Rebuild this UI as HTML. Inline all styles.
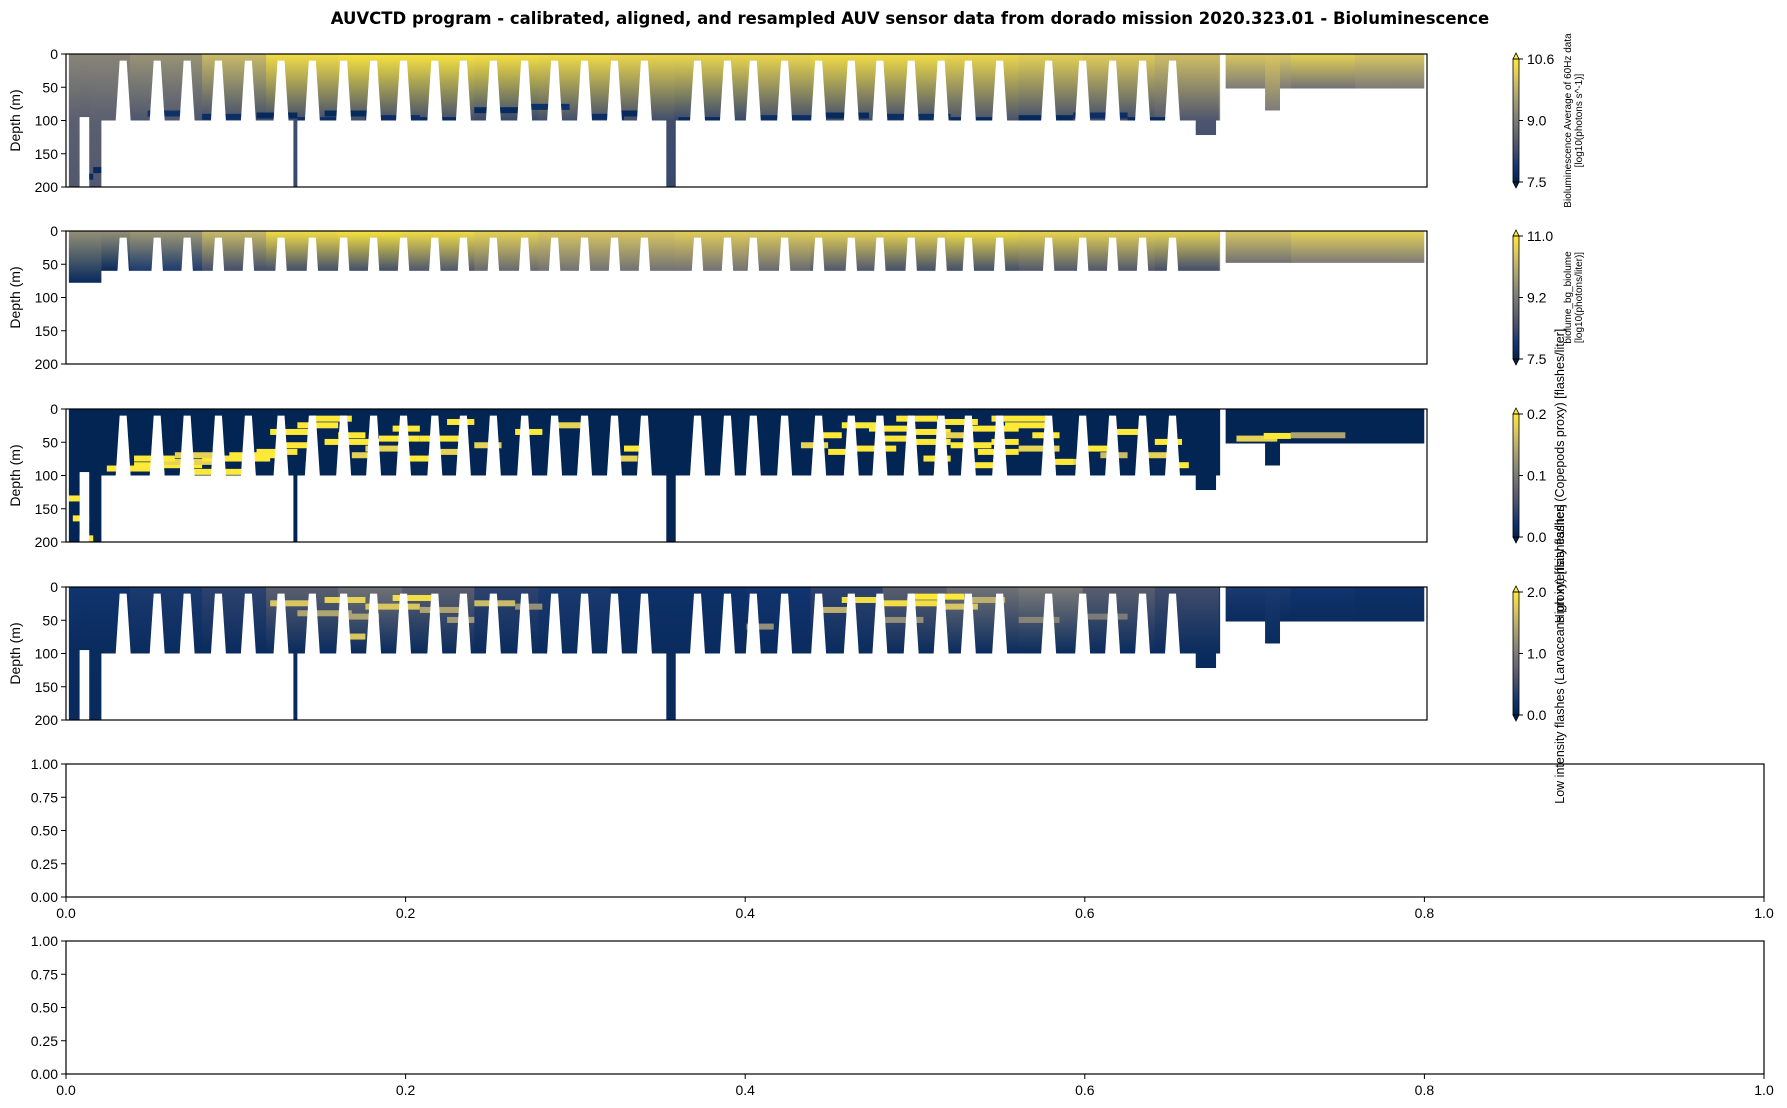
<!DOCTYPE html>
<html><head><meta charset="utf-8">
<style>
html,body{margin:0;padding:0;background:#fff;}
svg{display:block;font-family:"Liberation Sans","DejaVu Sans",sans-serif;}
</style></head>
<body>
<svg id="fig" width="1787" height="1108" viewBox="0 0 1787 1108" xmlns="http://www.w3.org/2000/svg">
<rect width="1787" height="1108" fill="#fff"/>
<text x="910" y="24" text-anchor="middle" font-size="16.5" font-weight="bold" font-family="DejaVu Sans, Liberation Sans, sans-serif">AUVCTD program - calibrated, aligned, and resampled AUV sensor data from dorado mission 2020.323.01 - Bioluminescence</text>
<defs id="defs"></defs>
<g id="root"></g>
</svg>
<script>
// ---- data ----
const depthTicks = [0, 50, 100, 150, 200];
const gapCenters = [0.042,0.067,0.089,0.112,0.134,0.158,0.181,0.204,0.226,0.248,0.271,0.292,0.314,0.337,0.359,0.381,0.403,0.425,0.464,0.486,0.505,0.528,0.553,0.577,0.598,0.621,0.643,0.663,0.686,0.722,0.747,0.769,0.791,0.813];
const segStart1 = [0.002,0.010,0.017,0.026,0.167,0.170,0.441,0.448,0.830,0.845,0.852,0.881,0.892];
const segEnd1   = [0.010,0.017,0.026,0.167,0.170,0.441,0.448,0.830,0.845,0.848,0.881,0.892,0.998];
const segBottom1= [200,95,200,100,200,100,200,100,122,100,52,85,52];
const segStart2 = [0.002,0.026,0.852];
const segEnd2   = [0.026,0.848,0.998];
const segBottom2= [78,60,48];
const p1Top = [0.55,0.62,0.8,0.95,0.98,0.98,0.97,0.95,0.93,0.93,0.93,0.95,0.95,0.93,0.9,0.88,0.82,0.85,0.9,0.85];
const p1Bot = [0.35,0.3,0.25,0.25,0.25,0.25,0.22,0.25,0.25,0.22,0.25,0.25,0.25,0.28,0.25,0.25,0.3,0.5,0.45,0.5];
const p2Top = [0.6,0.65,0.8,0.95,0.98,0.95,0.9,0.85,0.85,0.88,0.88,0.9,0.92,0.95,0.92,0.9,0.9,0.85,0.9,0.9];
const p2Bot = [0.05,0.15,0.25,0.25,0.25,0.3,0.4,0.45,0.45,0.45,0.4,0.3,0.25,0.25,0.3,0.3,0.25,0.45,0.5,0.5];
const p3Top = [0.02,0.02,0.02,0.02,0.02,0.02,0.02,0.02,0.02,0.02,0.02,0.02,0.02,0.02,0.02,0.02,0.02,0.02,0.02,0.02];
const p3Bot = [0.02,0.02,0.02,0.02,0.02,0.02,0.02,0.02,0.02,0.02,0.02,0.02,0.02,0.02,0.02,0.02,0.02,0.02,0.02,0.02];
const p4Top = [0.12,0.15,0.2,0.35,0.45,0.35,0.2,0.15,0.1,0.1,0.12,0.2,0.35,0.45,0.5,0.35,0.25,0.15,0.12,0.1];
const p4Bot = [0.06,0.06,0.06,0.06,0.06,0.06,0.06,0.06,0.06,0.06,0.06,0.06,0.06,0.06,0.06,0.06,0.06,0.06,0.06,0.06];
// panel 1 dark streaks near bottom
const s1X = [0.01,0.02,0.06,0.1,0.14,0.17,0.19,0.22,0.26,0.3,0.34,0.38,0.4,0.45,0.5,0.55,0.6,0.65,0.7,0.74,0.78,0.82];
const s1D = [180,170,85,90,88,95,85,92,95,80,75,90,85,95,92,88,90,95,92,88,95,105];
const s1L = [0.01,0.008,0.03,0.03,0.03,0.03,0.04,0.04,0.03,0.04,0.03,0.03,0.03,0.04,0.05,0.04,0.05,0.04,0.04,0.04,0.03,0.01];
const s1V = [0.05,0.05,0.1,0.08,0.05,0.08,0.05,0.08,0.05,0.05,0.1,0.08,0.05,0.05,0.08,0.05,0.08,0.05,0.05,0.08,0.05,0.1];
// streaks: x (fraction), depth (m), length (fraction), value (0-1)
const s3X = [0.0,0.005,0.01,0.03,0.05,0.07,0.09,0.1,0.12,0.14,0.15,0.17,0.19,0.2,0.22,0.24,0.26,0.28,0.3,0.33,0.36,0.4,0.41,0.55,0.57,0.58,0.6,0.61,0.62,0.63,0.64,0.65,0.66,0.67,0.68,0.69,0.71,0.73,0.75,0.77,0.79,0.8,0.81,0.86,0.88,0.9,0.05,0.08,0.16,0.18,0.21,0.23,0.25,0.27,0.54,0.56,0.59,0.62,0.64,0.66,0.68,0.7,0.72,0.76];
const s3D = [130,160,190,85,80,75,90,70,65,60,30,20,45,35,55,25,40,15,50,30,20,70,55,35,20,55,40,10,30,70,15,50,25,60,45,20,35,75,55,30,65,45,80,40,36,35,70,65,50,10,65,40,70,60,50,60,25,45,35,80,10,55,75,65];
const s3L = [0.01,0.012,0.01,0.04,0.05,0.04,0.04,0.05,0.04,0.03,0.03,0.03,0.04,0.02,0.03,0.02,0.03,0.02,0.02,0.02,0.02,0.02,0.015,0.02,0.03,0.03,0.02,0.03,0.03,0.02,0.03,0.03,0.04,0.03,0.02,0.03,0.02,0.02,0.02,0.02,0.02,0.02,0.015,0.03,0.02,0.04,0.03,0.03,0.02,0.03,0.02,0.03,0.02,0.02,0.02,0.02,0.03,0.03,0.02,0.03,0.04,0.03,0.02,0.02];
const s3V = [1,1,1,1,1,0.9,1,1,1,1,1,1,1,1,0.9,1,1,1,0.9,1,0.9,0.9,1,1,1,1,1,1,1,1,1,1,1,1,1,1,1,0.9,1,1,0.9,1,1,0.9,1,0.7,1,0.9,1,1,0.9,1,1,0.9,0.9,1,1,1,0.9,1,1,0.9,1,0.8];
const s4X = [0.15,0.17,0.19,0.2,0.22,0.24,0.26,0.28,0.3,0.33,0.5,0.55,0.57,0.6,0.62,0.64,0.66,0.7,0.75,0.2,0.6];
const s4D = [20,35,15,40,25,12,30,45,20,25,55,30,15,20,10,25,15,45,40,70,45];
const s4L = [0.03,0.04,0.03,0.03,0.04,0.03,0.03,0.02,0.03,0.02,0.02,0.03,0.03,0.04,0.04,0.03,0.03,0.03,0.03,0.02,0.03];
const s4V = [0.85,0.7,0.9,0.7,0.85,0.95,0.7,0.65,0.8,0.6,0.6,0.75,0.95,0.95,1,0.85,0.75,0.55,0.5,0.85,0.6];
const cbTicks1 = ["10.6","9.0","7.5"];
const cbTicks2 = ["11.0","9.2","7.5"];
const cbTicks3 = ["0.2","0.1","0.0"];
const cbTicks4 = ["2.0","1.0","0.0"];
const emptyYTicks = ["0.00","0.25","0.50","0.75","1.00"];
const emptyXTicks = ["0.0","0.2","0.4","0.6","0.8","1.0"];

// ---- helpers ----
const NS = "http://www.w3.org/2000/svg";
const root = document.getElementById('root');
const defs = document.getElementById('defs');
function mk(tag, attrs, parent){const e=document.createElementNS(NS,tag);for(const k in attrs)e.setAttribute(k,attrs[k]);(parent||root).appendChild(e);return e;}
const stops=[[0,[0,34,78]],[0.125,[18,53,112]],[0.25,[65,77,108]],[0.375,[97,99,112]],[0.5,[124,123,120]],[0.625,[154,148,118]],[0.75,[188,175,111]],[0.875,[224,204,91]],[1,[254,232,56]]];
function cmap(v){v=Math.max(0,Math.min(1,v));for(let i=1;i<stops.length;i++){if(v<=stops[i][0]){const a=stops[i-1],b=stops[i];const t=(v-a[0])/(b[0]-a[0]);const c=a[1].map((x,j)=>Math.round(x+(b[1][j]-x)*t));return `rgb(${c[0]},${c[1]},${c[2]})`;}}return 'rgb(254,232,56)';}

const AX0=66, AX1=1427, AW=AX1-AX0, AH=133;
const panelTops=[54,231,409,587];
let gid=0;
function panel(idx, top, segS, segE, segB, topV, botV, sX, sD, sL, sV, cbT, cbLabel){
  const g=mk('g',{});
  
  
  const xs=f=>AX0+f*AW, ys=d=>top+d/200*AH;
  const clipId='clip'+idx;
  const cp=mk('clipPath',{id:clipId},defs);
  mk('rect',{x:AX0,y:top,width:AW,height:AH},cp);
  const dg=mk('g',{'clip-path':`url(#${clipId})`},g);
  const N=170;
  for(let i=0;i<N;i++){
    const f0=i/N, f1=(i+1)/N, fm=(f0+f1)/2;
    for(let s=0;s<segS.length;s++){
      const a=Math.max(f0,segS[s]), b=Math.min(f1,segE[s]);
      if(b<=a) continue;
      const bin=Math.min(19,Math.floor(fm*20));
      const id='gr'+(gid++);
      const lg=mk('linearGradient',{id:id,x1:0,y1:0,x2:0,y2:1},defs);
      const bottomDepth=segB[s];
      mk('stop',{offset:0,'stop-color':cmap(topV[bin])},lg);
      mk('stop',{offset:Math.min(1,100/bottomDepth),'stop-color':cmap(botV[bin])},lg);
      mk('stop',{offset:1,'stop-color':cmap(botV[bin]*0.9)},lg);
      const r=mk('rect',{x:xs(a),y:ys(0),width:xs(b)-xs(a)+0.6,height:ys(bottomDepth)-ys(0),fill:`url(#${id})`},dg);
      
      
    }
  }
  for(let k=0;k<sX.length;k++){
    const r=mk('rect',{x:xs(sX[k]),y:ys(sD[k]),width:sL[k]*AW,height:6,fill:cmap(sV[k])},dg);
    
    
  }
  for(let s=0;s<segS.length;s++){
    mk('rect',{x:xs(segS[s]),y:ys(segB[s]),width:xs(segE[s])-xs(segS[s]),height:AH,fill:'#fff'},dg);
  }
  mk('rect',{x:AX0,y:top,width:xs(segS[0])-AX0,height:AH,fill:'#fff'},dg);
  mk('rect',{x:xs(0.848),y:top,width:xs(0.852)-xs(0.848),height:AH,fill:'#fff'},dg);
  mk('rect',{x:xs(0.998),y:top,width:AX1-xs(0.998),height:AH,fill:'#fff'},dg);
  for(const c of gapCenters){
    const p=mk('polygon',{points:`${xs(c)-3.5},${ys(10)} ${xs(c)+3.5},${ys(10)} ${xs(c)+7.5},${ys(100.5)} ${xs(c)-7.5},${ys(100.5)}`,fill:'#fff'},dg);
    
    
  }
  const fr=mk('rect',{x:AX0,y:top,width:AW,height:AH,fill:'none',stroke:'#000','stroke-width':1.2},g);
  
  
  for(const d of depthTicks){
    mk('line',{x1:AX0-5,x2:AX0,y1:ys(d),y2:ys(d),stroke:'#000'},g);
    const t=mk('text',{x:AX0-8,y:ys(d)+5,'text-anchor':'end','font-size':14},g);
    t.textContent=d;
    
    
  }
  const yl=mk('text',{x:0,y:0,transform:`translate(20,${top+AH/2}) rotate(-90)`,'text-anchor':'middle','font-size':14},g);
  yl.textContent='Depth (m)';
  
  
  const cbx=1513, cbw=6, ct=top+5, cb=top+AH-5;
  const cg=mk('g',{},g);
  
  
  const cid='cb'+idx;
  const lg=mk('linearGradient',{id:cid,x1:0,y1:1,x2:0,y2:0},defs);
  for(const s of stops) mk('stop',{offset:s[0],'stop-color':`rgb(${s[1].join(',')})`},lg);
  mk('rect',{x:cbx,y:ct,width:cbw,height:cb-ct,fill:`url(#${cid})`},cg);
  mk('polygon',{points:`${cbx},${ct} ${cbx+cbw},${ct} ${cbx+cbw/2},${ct-6}`,fill:'#fee838',stroke:'#000','stroke-width':0.8},cg);
  mk('polygon',{points:`${cbx},${cb} ${cbx+cbw},${cb} ${cbx+cbw/2},${cb+6}`,fill:'#00224e',stroke:'#000','stroke-width':0.8},cg);
  mk('rect',{x:cbx,y:ct,width:cbw,height:cb-ct,fill:'none',stroke:'#000','stroke-width':0.8},cg);
  for(let k=0;k<cbT.length;k++){
    const yy=ct+k*(cb-ct)/2;
    mk('line',{x1:cbx+cbw,x2:cbx+cbw+4,y1:yy,y2:yy,stroke:'#000'},cg);
    const t=mk('text',{x:cbx+cbw+8,y:yy+5,'font-size':14},cg);
    t.textContent=cbT[k];
    
    
  }
  if(cbLabel){
    const cy=top+AH/2;
    cbLabel.forEach((ln,k)=>{
      const t=mk('text',{transform:`translate(${1571+k*11},${cy}) rotate(-90)`,'text-anchor':'middle','font-size':10},cg);
      t.textContent=ln;
      
      
    });
  }
}
panel(0,panelTops[0],segStart1,segEnd1,segBottom1,p1Top,p1Bot,s1X,s1D,s1L,s1V,cbTicks1,["Bioluminescence Average of 60Hz data","[log10(photons s^-1)]"]);
panel(1,panelTops[1],segStart2,segEnd2,segBottom2,p2Top,p2Bot,[],[],[],[],cbTicks2,["biolume_bg_biolume","[log10(photons/liter)]"]);
panel(2,panelTops[2],segStart1,segEnd1,segBottom1,p3Top,p3Bot,s3X,s3D,s3L,s3V,cbTicks3,null);
panel(3,panelTops[3],segStart1,segEnd1,segBottom1,p4Top,p4Bot,s4X,s4D,s4L,s4V,cbTicks4,null);

const l3=mk('text',{transform:'translate(1564,476) rotate(-90)','text-anchor':'middle','font-size':12.5});
l3.textContent='High intensity flashes (Copepods proxy) [flashes/liter]';


const l4=mk('text',{transform:'translate(1564,654) rotate(-90)','text-anchor':'middle','font-size':12.5});
l4.textContent='Low intensity flashes (Larvaceans proxy) [flashes/liter]';



const E0=66, E1=1764;
[764,941].forEach((top,idx)=>{
  const g=mk('g',{});
  
  
  mk('rect',{x:E0,y:top,width:E1-E0,height:AH,fill:'none',stroke:'#000','stroke-width':1.2},g);
  emptyYTicks.forEach((lab,k)=>{
    const y=top+AH-k*AH/4;
    mk('line',{x1:E0-5,x2:E0,y1:y,y2:y,stroke:'#000'},g);
    const t=mk('text',{x:E0-8,y:y+5,'text-anchor':'end','font-size':14},g);
    t.textContent=lab;
    
    
  });
  emptyXTicks.forEach((lab,k)=>{
    const x=E0+k*(E1-E0)/5;
    mk('line',{x1:x,x2:x,y1:top+AH,y2:top+AH+5,stroke:'#000'},g);
    const t=mk('text',{x:x,y:top+AH+21,'text-anchor':'middle','font-size':14},g);
    t.textContent=lab;
    
    
  });
});
</script>
</body></html>
